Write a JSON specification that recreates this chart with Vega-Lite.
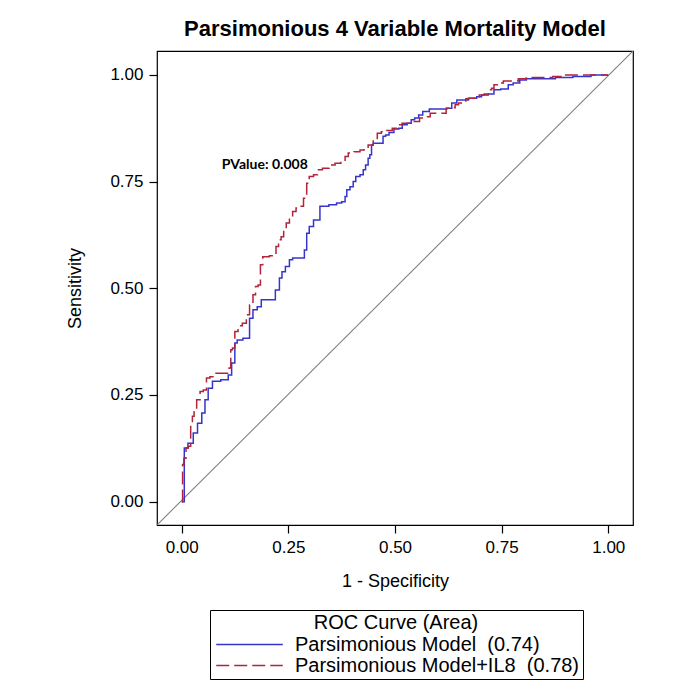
{
  "$schema": "https://vega.github.io/schema/vega-lite/v6.json",
  "autosize": "none",
  "width": 476,
  "height": 474,
  "padding": {"left": 157, "top": 51, "right": 64, "bottom": 172},
  "background": "white",
  "title": {"text": "Parsimonious 4 Variable Mortality Model", "fontSize": 22, "font": "Liberation Sans", "fontWeight": "bold", "color": "black", "anchor": "middle", "offset": 10},
  "config": {
    "view": {"stroke": "black", "strokeWidth": 1.2},
    "font": "Liberation Sans",
    "axis": {"grid": false, "domain": false, "tickColor": "black", "tickSize": 8, "tickWidth": 1.2, "labelFont": "Liberation Sans", "labelFontSize": 17, "labelColor": "black", "titleFont": "Liberation Sans", "titleFontSize": 18, "titleFontWeight": "normal", "titleColor": "black"},
    "legend": {"strokeColor": "black", "padding": 3, "symbolType": "M-3.5,0H3.5", "symbolSize": 361, "symbolStrokeWidth": 1.5, "symbolOffset": 26,
               "labelFontSize": 20, "labelFont": "Liberation Sans", "labelColor": "black", "labelOffset": 35,
               "titleFontSize": 20, "titleFont": "Liberation Sans", "titleFontWeight": "normal", "titleColor": "black",
               "titleAnchor": "middle", "titleAlign": "center", "titlePadding": 1, "rowPadding": 0, "labelLimit": 400}
  },
  "datasets": {
    "roc": [
      {"model": "Parsimonious Model", "fpr": 0.0, "sens": 0.0},
      {"model": "Parsimonious Model", "fpr": 0.006, "sens": 0.0},
      {"model": "Parsimonious Model", "fpr": 0.006, "sens": 0.126},
      {"model": "Parsimonious Model", "fpr": 0.023, "sens": 0.137},
      {"model": "Parsimonious Model", "fpr": 0.031, "sens": 0.161},
      {"model": "Parsimonious Model", "fpr": 0.043, "sens": 0.184},
      {"model": "Parsimonious Model", "fpr": 0.051, "sens": 0.208},
      {"model": "Parsimonious Model", "fpr": 0.058, "sens": 0.239},
      {"model": "Parsimonious Model", "fpr": 0.066, "sens": 0.266},
      {"model": "Parsimonious Model", "fpr": 0.078, "sens": 0.282},
      {"model": "Parsimonious Model", "fpr": 0.105, "sens": 0.286},
      {"model": "Parsimonious Model", "fpr": 0.113, "sens": 0.297},
      {"model": "Parsimonious Model", "fpr": 0.121, "sens": 0.325},
      {"model": "Parsimonious Model", "fpr": 0.128, "sens": 0.372},
      {"model": "Parsimonious Model", "fpr": 0.132, "sens": 0.379},
      {"model": "Parsimonious Model", "fpr": 0.155, "sens": 0.383},
      {"model": "Parsimonious Model", "fpr": 0.163, "sens": 0.43},
      {"model": "Parsimonious Model", "fpr": 0.171, "sens": 0.45},
      {"model": "Parsimonious Model", "fpr": 0.183, "sens": 0.457},
      {"model": "Parsimonious Model", "fpr": 0.19, "sens": 0.473},
      {"model": "Parsimonious Model", "fpr": 0.214, "sens": 0.473},
      {"model": "Parsimonious Model", "fpr": 0.225, "sens": 0.496},
      {"model": "Parsimonious Model", "fpr": 0.233, "sens": 0.524},
      {"model": "Parsimonious Model", "fpr": 0.237, "sens": 0.539},
      {"model": "Parsimonious Model", "fpr": 0.249, "sens": 0.551},
      {"model": "Parsimonious Model", "fpr": 0.256, "sens": 0.567},
      {"model": "Parsimonious Model", "fpr": 0.264, "sens": 0.571},
      {"model": "Parsimonious Model", "fpr": 0.284, "sens": 0.571},
      {"model": "Parsimonious Model", "fpr": 0.291, "sens": 0.59},
      {"model": "Parsimonious Model", "fpr": 0.295, "sens": 0.629},
      {"model": "Parsimonious Model", "fpr": 0.303, "sens": 0.645},
      {"model": "Parsimonious Model", "fpr": 0.315, "sens": 0.66},
      {"model": "Parsimonious Model", "fpr": 0.333, "sens": 0.692},
      {"model": "Parsimonious Model", "fpr": 0.357, "sens": 0.696},
      {"model": "Parsimonious Model", "fpr": 0.369, "sens": 0.7},
      {"model": "Parsimonious Model", "fpr": 0.381, "sens": 0.703},
      {"model": "Parsimonious Model", "fpr": 0.385, "sens": 0.715},
      {"model": "Parsimonious Model", "fpr": 0.389, "sens": 0.731},
      {"model": "Parsimonious Model", "fpr": 0.4, "sens": 0.738},
      {"model": "Parsimonious Model", "fpr": 0.404, "sens": 0.75},
      {"model": "Parsimonious Model", "fpr": 0.412, "sens": 0.762},
      {"model": "Parsimonious Model", "fpr": 0.424, "sens": 0.766},
      {"model": "Parsimonious Model", "fpr": 0.427, "sens": 0.778},
      {"model": "Parsimonious Model", "fpr": 0.435, "sens": 0.789},
      {"model": "Parsimonious Model", "fpr": 0.439, "sens": 0.805},
      {"model": "Parsimonious Model", "fpr": 0.443, "sens": 0.813},
      {"model": "Parsimonious Model", "fpr": 0.447, "sens": 0.836},
      {"model": "Parsimonious Model", "fpr": 0.451, "sens": 0.84},
      {"model": "Parsimonious Model", "fpr": 0.47, "sens": 0.84},
      {"model": "Parsimonious Model", "fpr": 0.474, "sens": 0.856},
      {"model": "Parsimonious Model", "fpr": 0.482, "sens": 0.859},
      {"model": "Parsimonious Model", "fpr": 0.49, "sens": 0.865},
      {"model": "Parsimonious Model", "fpr": 0.505, "sens": 0.873},
      {"model": "Parsimonious Model", "fpr": 0.513, "sens": 0.875},
      {"model": "Parsimonious Model", "fpr": 0.521, "sens": 0.883},
      {"model": "Parsimonious Model", "fpr": 0.536, "sens": 0.887},
      {"model": "Parsimonious Model", "fpr": 0.54, "sens": 0.895},
      {"model": "Parsimonious Model", "fpr": 0.552, "sens": 0.899},
      {"model": "Parsimonious Model", "fpr": 0.559, "sens": 0.906},
      {"model": "Parsimonious Model", "fpr": 0.571, "sens": 0.914},
      {"model": "Parsimonious Model", "fpr": 0.59, "sens": 0.92},
      {"model": "Parsimonious Model", "fpr": 0.618, "sens": 0.92},
      {"model": "Parsimonious Model", "fpr": 0.625, "sens": 0.922},
      {"model": "Parsimonious Model", "fpr": 0.641, "sens": 0.934},
      {"model": "Parsimonious Model", "fpr": 0.649, "sens": 0.941},
      {"model": "Parsimonious Model", "fpr": 0.66, "sens": 0.941},
      {"model": "Parsimonious Model", "fpr": 0.684, "sens": 0.945},
      {"model": "Parsimonious Model", "fpr": 0.699, "sens": 0.949},
      {"model": "Parsimonious Model", "fpr": 0.707, "sens": 0.953},
      {"model": "Parsimonious Model", "fpr": 0.73, "sens": 0.955},
      {"model": "Parsimonious Model", "fpr": 0.734, "sens": 0.965},
      {"model": "Parsimonious Model", "fpr": 0.762, "sens": 0.967},
      {"model": "Parsimonious Model", "fpr": 0.769, "sens": 0.977},
      {"model": "Parsimonious Model", "fpr": 0.785, "sens": 0.981},
      {"model": "Parsimonious Model", "fpr": 0.8, "sens": 0.988},
      {"model": "Parsimonious Model", "fpr": 0.816, "sens": 0.991},
      {"model": "Parsimonious Model", "fpr": 0.874, "sens": 0.991},
      {"model": "Parsimonious Model", "fpr": 0.878, "sens": 0.994},
      {"model": "Parsimonious Model", "fpr": 0.956, "sens": 0.996},
      {"model": "Parsimonious Model", "fpr": 0.963, "sens": 1.0},
      {"model": "Parsimonious Model", "fpr": 1.0, "sens": 1.0},
      {"model": "Parsimonious Model+IL8", "fpr": 0.0, "sens": 0.0},
      {"model": "Parsimonious Model+IL8", "fpr": 0.002, "sens": 0.0},
      {"model": "Parsimonious Model+IL8", "fpr": 0.002, "sens": 0.087},
      {"model": "Parsimonious Model+IL8", "fpr": 0.008, "sens": 0.102},
      {"model": "Parsimonious Model+IL8", "fpr": 0.012, "sens": 0.126},
      {"model": "Parsimonious Model+IL8", "fpr": 0.019, "sens": 0.13},
      {"model": "Parsimonious Model+IL8", "fpr": 0.023, "sens": 0.184},
      {"model": "Parsimonious Model+IL8", "fpr": 0.027, "sens": 0.2},
      {"model": "Parsimonious Model+IL8", "fpr": 0.031, "sens": 0.211},
      {"model": "Parsimonious Model+IL8", "fpr": 0.039, "sens": 0.239},
      {"model": "Parsimonious Model+IL8", "fpr": 0.047, "sens": 0.258},
      {"model": "Parsimonious Model+IL8", "fpr": 0.054, "sens": 0.262},
      {"model": "Parsimonious Model+IL8", "fpr": 0.062, "sens": 0.29},
      {"model": "Parsimonious Model+IL8", "fpr": 0.07, "sens": 0.293},
      {"model": "Parsimonious Model+IL8", "fpr": 0.082, "sens": 0.301},
      {"model": "Parsimonious Model+IL8", "fpr": 0.109, "sens": 0.301},
      {"model": "Parsimonious Model+IL8", "fpr": 0.113, "sens": 0.313},
      {"model": "Parsimonious Model+IL8", "fpr": 0.117, "sens": 0.356},
      {"model": "Parsimonious Model+IL8", "fpr": 0.121, "sens": 0.36},
      {"model": "Parsimonious Model+IL8", "fpr": 0.128, "sens": 0.399},
      {"model": "Parsimonious Model+IL8", "fpr": 0.136, "sens": 0.412},
      {"model": "Parsimonious Model+IL8", "fpr": 0.148, "sens": 0.418},
      {"model": "Parsimonious Model+IL8", "fpr": 0.155, "sens": 0.438},
      {"model": "Parsimonious Model+IL8", "fpr": 0.163, "sens": 0.461},
      {"model": "Parsimonious Model+IL8", "fpr": 0.171, "sens": 0.485},
      {"model": "Parsimonious Model+IL8", "fpr": 0.175, "sens": 0.504},
      {"model": "Parsimonious Model+IL8", "fpr": 0.183, "sens": 0.508},
      {"model": "Parsimonious Model+IL8", "fpr": 0.186, "sens": 0.555},
      {"model": "Parsimonious Model+IL8", "fpr": 0.194, "sens": 0.574},
      {"model": "Parsimonious Model+IL8", "fpr": 0.217, "sens": 0.576},
      {"model": "Parsimonious Model+IL8", "fpr": 0.225, "sens": 0.598},
      {"model": "Parsimonious Model+IL8", "fpr": 0.229, "sens": 0.614},
      {"model": "Parsimonious Model+IL8", "fpr": 0.237, "sens": 0.621},
      {"model": "Parsimonious Model+IL8", "fpr": 0.241, "sens": 0.637},
      {"model": "Parsimonious Model+IL8", "fpr": 0.249, "sens": 0.653},
      {"model": "Parsimonious Model+IL8", "fpr": 0.256, "sens": 0.664},
      {"model": "Parsimonious Model+IL8", "fpr": 0.264, "sens": 0.68},
      {"model": "Parsimonious Model+IL8", "fpr": 0.272, "sens": 0.688},
      {"model": "Parsimonious Model+IL8", "fpr": 0.28, "sens": 0.692},
      {"model": "Parsimonious Model+IL8", "fpr": 0.291, "sens": 0.711},
      {"model": "Parsimonious Model+IL8", "fpr": 0.295, "sens": 0.746},
      {"model": "Parsimonious Model+IL8", "fpr": 0.303, "sens": 0.762},
      {"model": "Parsimonious Model+IL8", "fpr": 0.315, "sens": 0.766},
      {"model": "Parsimonious Model+IL8", "fpr": 0.322, "sens": 0.778},
      {"model": "Parsimonious Model+IL8", "fpr": 0.338, "sens": 0.781},
      {"model": "Parsimonious Model+IL8", "fpr": 0.354, "sens": 0.789},
      {"model": "Parsimonious Model+IL8", "fpr": 0.365, "sens": 0.793},
      {"model": "Parsimonious Model+IL8", "fpr": 0.381, "sens": 0.797},
      {"model": "Parsimonious Model+IL8", "fpr": 0.385, "sens": 0.809},
      {"model": "Parsimonious Model+IL8", "fpr": 0.396, "sens": 0.817},
      {"model": "Parsimonious Model+IL8", "fpr": 0.412, "sens": 0.82},
      {"model": "Parsimonious Model+IL8", "fpr": 0.424, "sens": 0.824},
      {"model": "Parsimonious Model+IL8", "fpr": 0.431, "sens": 0.828},
      {"model": "Parsimonious Model+IL8", "fpr": 0.443, "sens": 0.836},
      {"model": "Parsimonious Model+IL8", "fpr": 0.455, "sens": 0.848},
      {"model": "Parsimonious Model+IL8", "fpr": 0.462, "sens": 0.863},
      {"model": "Parsimonious Model+IL8", "fpr": 0.474, "sens": 0.867},
      {"model": "Parsimonious Model+IL8", "fpr": 0.486, "sens": 0.87},
      {"model": "Parsimonious Model+IL8", "fpr": 0.501, "sens": 0.875},
      {"model": "Parsimonious Model+IL8", "fpr": 0.509, "sens": 0.883},
      {"model": "Parsimonious Model+IL8", "fpr": 0.524, "sens": 0.887},
      {"model": "Parsimonious Model+IL8", "fpr": 0.552, "sens": 0.891},
      {"model": "Parsimonious Model+IL8", "fpr": 0.563, "sens": 0.899},
      {"model": "Parsimonious Model+IL8", "fpr": 0.575, "sens": 0.902},
      {"model": "Parsimonious Model+IL8", "fpr": 0.59, "sens": 0.91},
      {"model": "Parsimonious Model+IL8", "fpr": 0.618, "sens": 0.91},
      {"model": "Parsimonious Model+IL8", "fpr": 0.622, "sens": 0.922},
      {"model": "Parsimonious Model+IL8", "fpr": 0.637, "sens": 0.923},
      {"model": "Parsimonious Model+IL8", "fpr": 0.645, "sens": 0.93},
      {"model": "Parsimonious Model+IL8", "fpr": 0.653, "sens": 0.934},
      {"model": "Parsimonious Model+IL8", "fpr": 0.664, "sens": 0.937},
      {"model": "Parsimonious Model+IL8", "fpr": 0.668, "sens": 0.944},
      {"model": "Parsimonious Model+IL8", "fpr": 0.68, "sens": 0.945},
      {"model": "Parsimonious Model+IL8", "fpr": 0.692, "sens": 0.948},
      {"model": "Parsimonious Model+IL8", "fpr": 0.703, "sens": 0.953},
      {"model": "Parsimonious Model+IL8", "fpr": 0.715, "sens": 0.955},
      {"model": "Parsimonious Model+IL8", "fpr": 0.723, "sens": 0.965},
      {"model": "Parsimonious Model+IL8", "fpr": 0.73, "sens": 0.969},
      {"model": "Parsimonious Model+IL8", "fpr": 0.734, "sens": 0.977},
      {"model": "Parsimonious Model+IL8", "fpr": 0.746, "sens": 0.981},
      {"model": "Parsimonious Model+IL8", "fpr": 0.762, "sens": 0.986},
      {"model": "Parsimonious Model+IL8", "fpr": 0.781, "sens": 0.986},
      {"model": "Parsimonious Model+IL8", "fpr": 0.797, "sens": 0.991},
      {"model": "Parsimonious Model+IL8", "fpr": 0.816, "sens": 0.992},
      {"model": "Parsimonious Model+IL8", "fpr": 0.82, "sens": 0.994},
      {"model": "Parsimonious Model+IL8", "fpr": 0.847, "sens": 0.994},
      {"model": "Parsimonious Model+IL8", "fpr": 0.893, "sens": 0.996},
      {"model": "Parsimonious Model+IL8", "fpr": 0.897, "sens": 1.0},
      {"model": "Parsimonious Model+IL8", "fpr": 1.0, "sens": 1.0}
    ],
    "note": [{"label": "PValue: 0.008", "fpr": 0.094, "sens": 0.789}]
  },
  "layer": [
    {
      "data": {"values": [{}]},
      "mark": {"type": "rule", "color": "#808080", "strokeWidth": 1.1, "clip": true},
      "encoding": {
        "x": {"datum": -0.058, "type": "quantitative"},
        "y": {"datum": -0.0546, "type": "quantitative"},
        "x2": {"datum": 1.058},
        "y2": {"datum": 1.056}
      }
    },
    {
      "data": {"name": "roc"},
      "mark": {"type": "line", "interpolate": "step", "strokeWidth": 1.5, "clip": true},
      "encoding": {
        "x": {"field": "fpr", "type": "quantitative",
              "scale": {"domain": [-0.058, 1.058], "nice": false, "zero": false},
              "axis": {"values": [0, 0.25, 0.5, 0.75, 1], "format": ".2f", "title": "1 - Specificity", "labelPadding": 6, "titlePadding": 17}},
        "y": {"field": "sens", "type": "quantitative",
              "scale": {"domain": [-0.0546, 1.056], "nice": false, "zero": false},
              "axis": {"values": [0, 0.25, 0.5, 0.75, 1], "format": ".2f", "title": "Sensitivity", "labelPadding": 6, "titlePadding": 25}},
        "order": {"field": "fpr", "type": "quantitative"},
        "color": {"field": "model", "type": "nominal",
                  "scale": {"domain": ["Parsimonious Model", "Parsimonious Model+IL8"], "range": ["#3535CC", "#B0243C"]},
                  "legend": {"title": "ROC Curve (Area)", "orient": "none", "legendX": 53, "legendY": 559,
                             "labelExpr": "datum.label + (datum.label == 'Parsimonious Model' ? '\u00a0 (0.74)' : '\u00a0 (0.78)')"}},
        "strokeDash": {"field": "model", "type": "nominal",
                       "scale": {"domain": ["Parsimonious Model", "Parsimonious Model+IL8"], "range": [[1, 0], [13, 5]]},
                       "legend": {"title": "ROC Curve (Area)", "orient": "none", "legendX": 53, "legendY": 559,
                             "labelExpr": "datum.label + (datum.label == 'Parsimonious Model' ? '\u00a0 (0.74)' : '\u00a0 (0.78)')"}}
      }
    },
    {
      "data": {"name": "note"},
      "mark": {"type": "text", "align": "left", "baseline": "middle", "font": "Lato", "fontWeight": "bold", "fontSize": 14, "color": "black"},
      "encoding": {
        "x": {"field": "fpr", "type": "quantitative"},
        "y": {"field": "sens", "type": "quantitative"},
        "text": {"field": "label"}
      }
    }
  ]
}
